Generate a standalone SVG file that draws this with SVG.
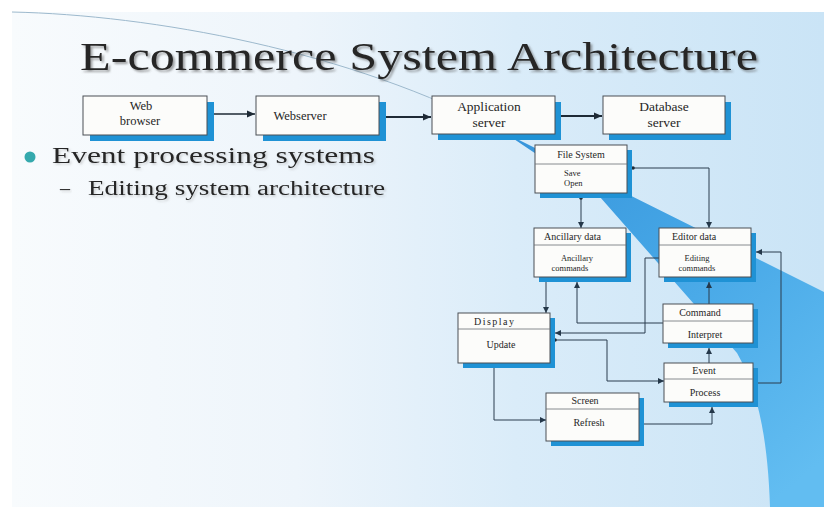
<svg xmlns="http://www.w3.org/2000/svg" width="824" height="507" viewBox="0 0 824 507">
  <defs>
    <linearGradient id="bg" x1="0" y1="0" x2="1" y2="0">
      <stop offset="0" stop-color="#f8fbfd"/>
      <stop offset="0.35" stop-color="#eef5fb"/>
      <stop offset="0.62" stop-color="#daecf9"/>
      <stop offset="1" stop-color="#cae4f6"/>
    </linearGradient>
    <linearGradient id="band" x1="505" y1="133" x2="800" y2="480" gradientUnits="userSpaceOnUse">
      <stop offset="0" stop-color="#3794da"/>
      <stop offset="0.45" stop-color="#45a6e6"/>
      <stop offset="1" stop-color="#62bdf1"/>
    </linearGradient>
    <filter id="txtShadow" x="-5%" y="-20%" width="110%" height="150%">
      <feDropShadow dx="2" dy="2" stdDeviation="1.2" flood-color="#555" flood-opacity="0.55"/>
    </filter>
    <filter id="softShadow" x="-5%" y="-20%" width="110%" height="150%">
      <feDropShadow dx="1.5" dy="1.5" stdDeviation="1" flood-color="#777" flood-opacity="0.35"/>
    </filter>
    <marker id="arrow" viewBox="0 0 6 6" refX="6" refY="3" markerWidth="6" markerHeight="6" markerUnits="userSpaceOnUse" orient="auto">
      <path d="M0,0 L6,3 L0,6 z" fill="#25384a"/>
    </marker>
    <marker id="arrowBig" viewBox="0 0 8 8" refX="8" refY="4" markerWidth="8" markerHeight="8" markerUnits="userSpaceOnUse" orient="auto">
      <path d="M0,0.5 L8,4 L0,7.5 z" fill="#1e2a36"/>
    </marker>
    <marker id="dot" viewBox="0 0 4 4" refX="2" refY="2" markerWidth="4" markerHeight="4" markerUnits="userSpaceOnUse">
      <circle cx="2" cy="2" r="1.8" fill="#1e2a36"/>
    </marker>
    <style>
      .box { fill: #fcfcfa; stroke: #4a4f55; stroke-width: 1; }
      .shadow { fill: #1f92d5; }
      .div { stroke: #6a6f75; stroke-width: 0.8; }
      .t { font-family: "Liberation Serif", "Times New Roman", serif; fill: #262626; }
      .s13 { font-size: 12.5px; }
      .s14 { font-size: 13.5px; }
      .s10 { font-size: 10px; }
      .s9 { font-size: 8.5px; }
      .mid { text-anchor: middle; }
      .conn { fill: none; stroke: #2a3c4e; stroke-width: 1; }
      .connTop { fill: none; stroke: #1e2a36; }
    </style>
  </defs>

  <!-- page and slide background -->
  <rect x="0" y="0" width="824" height="507" fill="#ffffff"/>
  <rect x="12" y="12" width="812" height="495" fill="url(#bg)"/>
  <path d="M12,12 C150,15 350,50 505,133" fill="none" stroke="#9db9cd" stroke-width="1"/>
  <path d="M505,133 L824,292 L824,507 L770,507 C768,440 758,390 737,353 L600,197 Z" fill="url(#band)"/>

  <!-- title and bullets -->
  <text class="t" x="80" y="70" font-size="41" textLength="678" lengthAdjust="spacingAndGlyphs" fill="#111" filter="url(#txtShadow)">E-commerce System Architecture</text>
  <circle cx="30" cy="157" r="5.5" fill="#35a9ad"/>
  <text class="t" x="52" y="163" font-size="24" textLength="323" lengthAdjust="spacingAndGlyphs" filter="url(#softShadow)">Event processing systems</text>
  <text class="t" x="60" y="195" font-size="20" filter="url(#softShadow)">–</text>
  <text class="t" x="88" y="195" font-size="20" textLength="297" lengthAdjust="spacingAndGlyphs" filter="url(#softShadow)">Editing system architecture</text>

  <!-- connectors -->
  <g id="connectors">
    <path class="connTop" stroke-width="1.3" d="M208,114 L255,114" marker-start="url(#dot)" marker-end="url(#arrowBig)"/>
    <path class="connTop" stroke-width="2" d="M381,117 L431,117" marker-start="url(#dot)" marker-end="url(#arrowBig)"/>
    <path class="connTop" stroke-width="2" d="M554,116 L602,116" marker-start="url(#dot)" marker-end="url(#arrowBig)"/>

    <path class="conn" d="M581,198 L581,228" marker-start="url(#dot)" marker-end="url(#arrow)"/>
    <path class="conn" d="M633,168 L709,168 L709,228" marker-start="url(#dot)" marker-end="url(#arrow)"/>
    <path class="conn" d="M546,282 L546,313" marker-end="url(#arrow)"/>
    <path class="conn" d="M659,258 L645,258 L645,333 L555,333" marker-end="url(#arrow)"/>
    <path class="conn" d="M663,323 L577,323 L577,282" marker-end="url(#arrow)"/>
    <path class="conn" d="M709,304 L709,282" marker-end="url(#arrow)"/>
    <path class="conn" d="M709,363 L709,348" marker-end="url(#arrow)"/>
    <path class="conn" d="M758,383 L781,383 L781,252 L756,252" marker-end="url(#arrow)"/>
    <path class="conn" d="M555,340 L607,340 L607,381 L664,381" marker-start="url(#dot)" marker-end="url(#arrow)"/>
    <path class="conn" d="M494,368 L494,420 L546,420" marker-end="url(#arrow)"/>
    <path class="conn" d="M644,424 L712,424 L712,407" marker-end="url(#arrow)"/>
  </g>

  <!-- top row -->
  <g id="web-browser">
    <rect class="shadow" x="90" y="102" width="124" height="39"/>
    <rect class="box" x="83" y="96" width="124" height="39"/>
    <text class="t s13 mid" x="141" y="110">Web</text>
    <text class="t s13 mid" x="140" y="125">browser</text>
  </g>
  <g id="webserver">
    <rect class="shadow" x="263" y="102" width="123" height="39"/>
    <rect class="box" x="256" y="96" width="123" height="39"/>
    <text class="t s13 mid" x="300" y="120">Webserver</text>
  </g>
  <g id="application-server">
    <rect class="shadow" x="438" y="102" width="123" height="38"/>
    <rect class="box" x="432" y="96" width="123" height="38"/>
    <text class="t s14 mid" x="489" y="111">Application</text>
    <text class="t s14 mid" x="489" y="127">server</text>
  </g>
  <g id="database-server">
    <rect class="shadow" x="609" y="102" width="122" height="38"/>
    <rect class="box" x="603" y="96" width="122" height="38"/>
    <text class="t s14 mid" x="664" y="111">Database</text>
    <text class="t s14 mid" x="664" y="127">server</text>
  </g>

  <!-- editing system components -->
  <g id="file-system">
    <rect class="shadow" x="540" y="150" width="92" height="48"/>
    <rect class="box" x="535" y="145" width="92" height="48"/>
    <line class="div" x1="535" y1="164" x2="627" y2="164"/>
    <text class="t s10 mid" x="581" y="158">File System</text>
    <text class="t s9" x="564" y="176">Save</text>
    <text class="t s9" x="564" y="186">Open</text>
  </g>
  <g id="ancillary-data">
    <rect class="shadow" x="539" y="233" width="92" height="49"/>
    <rect class="box" x="534" y="228" width="92" height="49"/>
    <line class="div" x1="534" y1="245" x2="626" y2="245"/>
    <text class="t s10" x="544" y="240">Ancillary data</text>
    <text class="t s9 mid" x="577" y="261">Ancillary</text>
    <text class="t s9 mid" x="570" y="271">commands</text>
  </g>
  <g id="editor-data">
    <rect class="shadow" x="664" y="233" width="92" height="49"/>
    <rect class="box" x="659" y="228" width="92" height="49"/>
    <line class="div" x1="659" y1="245" x2="751" y2="245"/>
    <text class="t s10" x="672" y="240">Editor data</text>
    <text class="t s9 mid" x="697" y="261">Editing</text>
    <text class="t s9 mid" x="697" y="271">commands</text>
  </g>
  <g id="display">
    <rect class="shadow" x="463" y="318" width="92" height="50"/>
    <rect class="box" x="458" y="313" width="92" height="50"/>
    <line class="div" x1="458" y1="329" x2="550" y2="329"/>
    <text class="t s10 mid" x="494" y="325" textLength="40" lengthAdjust="spacing">Display</text>
    <text class="t s10 mid" x="501" y="348">Update</text>
  </g>
  <g id="command">
    <rect class="shadow" x="668" y="309" width="90" height="39"/>
    <rect class="box" x="663" y="304" width="90" height="39"/>
    <line class="div" x1="663" y1="321" x2="753" y2="321"/>
    <text class="t s10 mid" x="700" y="316">Command</text>
    <text class="t s10 mid" x="705" y="338">Interpret</text>
  </g>
  <g id="event">
    <rect class="shadow" x="669" y="368" width="89" height="39"/>
    <rect class="box" x="664" y="363" width="89" height="39"/>
    <line class="div" x1="664" y1="379" x2="753" y2="379"/>
    <text class="t s10 mid" x="704" y="374">Event</text>
    <text class="t s10 mid" x="705" y="396">Process</text>
  </g>
  <g id="screen">
    <rect class="shadow" x="551" y="398" width="93" height="48"/>
    <rect class="box" x="546" y="393" width="93" height="48"/>
    <line class="div" x1="546" y1="409" x2="639" y2="409"/>
    <text class="t s10 mid" x="585" y="404">Screen</text>
    <text class="t s10 mid" x="589" y="426">Refresh</text>
  </g>
</svg>
